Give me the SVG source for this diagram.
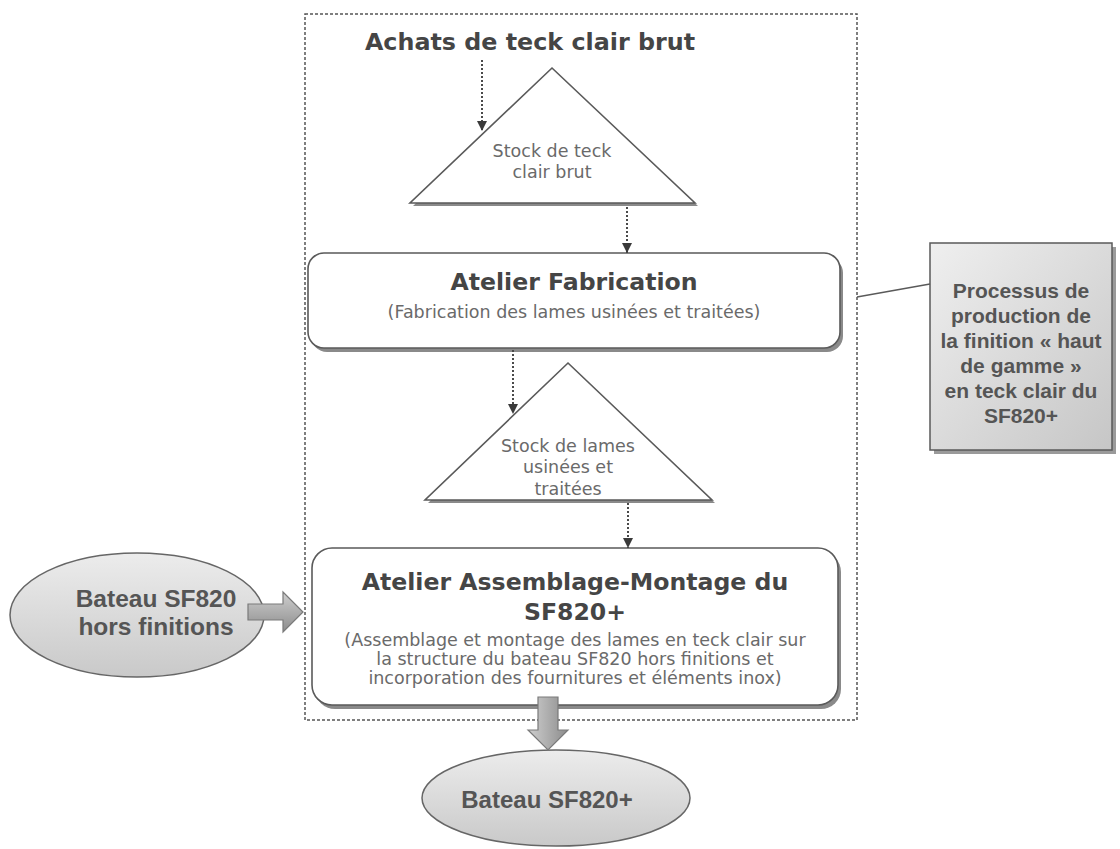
<svg xmlns="http://www.w3.org/2000/svg" width="1120" height="849" viewBox="0 0 1120 849">
  <defs>
    <style>
      .title { font-family: "DejaVu Sans", Verdana, sans-serif; font-weight: bold; fill: #454545; text-anchor: middle; }
      .sub { font-family: "DejaVu Sans", Verdana, sans-serif; fill: #6a6a6a; text-anchor: middle; }
      .arial { font-family: "Liberation Sans", Arial, sans-serif; font-weight: bold; fill: #555; text-anchor: middle; }
      .box { fill: #ffffff; stroke: #5a5a5a; stroke-width: 1.6; }
      .shadow { fill: #8a8a8a; }
      .dotted { fill: none; stroke: #4a4a4a; stroke-width: 2; stroke-dasharray: 2 2; }
      .solid { fill: none; stroke: #5a5a5a; stroke-width: 1.5; }
      .frame { fill: none; stroke: #555; stroke-width: 1.5; stroke-dasharray: 3 2; }
      .fat { stroke: #7a7a7a; stroke-width: 1.2; }
    </style>
    <marker id="ah" markerUnits="userSpaceOnUse" markerWidth="10" markerHeight="10" refX="10" refY="5" orient="auto">
      <path d="M0,0 L10,5 L0,10 Z" fill="#3a3a3a"/>
    </marker>
    <linearGradient id="gEll" x1="0" y1="0" x2="0" y2="1">
      <stop offset="0" stop-color="#ececec"/>
      <stop offset="1" stop-color="#c9c9c9"/>
    </linearGradient>
    <linearGradient id="gBox" x1="0" y1="0" x2="1" y2="1">
      <stop offset="0" stop-color="#efefef"/>
      <stop offset="1" stop-color="#c6c6c6"/>
    </linearGradient>
    <linearGradient id="gArrV" x1="0" y1="0" x2="1" y2="0">
      <stop offset="0" stop-color="#cfcfcf"/>
      <stop offset="1" stop-color="#8c8c8c"/>
    </linearGradient>
    <linearGradient id="gArrH" x1="0" y1="0" x2="0" y2="1">
      <stop offset="0" stop-color="#cfcfcf"/>
      <stop offset="1" stop-color="#8c8c8c"/>
    </linearGradient>
  </defs>

  <rect width="1120" height="849" fill="#ffffff"/>

  <g id="frame">
    <rect class="frame" x="305" y="14" width="552" height="706"/>
  </g>

  <g id="achats">
    <text class="title" x="530" y="50" font-size="23.8">Achats de teck clair brut</text>
  </g>

  <g id="stock1">
    <polygon class="shadow" points="554,71 698,206 413,206"/>
    <polygon class="box" points="552,68 695,203 410,203"/>
    <text class="sub" x="552" y="157" font-size="17.5">Stock de teck</text>
    <text class="sub" x="552" y="178" font-size="17.5">clair brut</text>
  </g>

  <g id="fabrication">
    <rect class="shadow" x="311" y="257" width="532" height="95" rx="16"/>
    <rect class="box" x="308" y="253" width="532" height="95" rx="16"/>
    <text class="title" x="574" y="290" font-size="23.6">Atelier Fabrication</text>
    <text class="sub" x="574" y="318" font-size="17.5">(Fabrication des lames usinées et traitées)</text>
  </g>

  <g id="stock2">
    <polygon class="shadow" points="570,366 715,503 428,503"/>
    <polygon class="box" points="568,363 712,500 425,500"/>
    <text class="sub" x="568" y="452" font-size="17.5">Stock de lames</text>
    <text class="sub" x="568" y="473" font-size="17.5">usinées et</text>
    <text class="sub" x="568" y="495" font-size="17.5">traitées</text>
  </g>

  <g id="assemblage">
    <rect class="shadow" x="315" y="552" width="526" height="157" rx="20"/>
    <rect class="box" x="312" y="548" width="526" height="157" rx="20"/>
    <text class="title" x="575" y="590" font-size="23.6">Atelier Assemblage-Montage du</text>
    <text class="title" x="575" y="620" font-size="23.6">SF820+</text>
    <text class="sub" x="575" y="646" font-size="17.5">(Assemblage et montage des lames en teck clair sur</text>
    <text class="sub" x="575" y="665" font-size="17.5">la structure du bateau SF820 hors finitions et</text>
    <text class="sub" x="575" y="684" font-size="17.5">incorporation des fournitures et éléments inox)</text>
  </g>

  <g id="bateau-hors">
    <ellipse cx="137" cy="615" rx="127" ry="62" fill="url(#gEll)" stroke="#666" stroke-width="1.5"/>
    <text class="arial" x="156" y="607" font-size="24.5">Bateau SF820</text>
    <text class="arial" x="156" y="635" font-size="24.5">hors finitions</text>
  </g>

  <g id="bateau-plus">
    <ellipse cx="556" cy="798" rx="134" ry="48" fill="url(#gEll)" stroke="#666" stroke-width="1.5"/>
    <text class="arial" x="547" y="808" font-size="24">Bateau SF820+</text>
  </g>

  <g id="processus">
    <rect x="934" y="247" width="182" height="207" fill="#9a9a9a"/>
    <rect x="930" y="243" width="182" height="207" fill="url(#gBox)" stroke="#5a5a5a" stroke-width="1.5"/>
    <text class="arial" x="1021" y="298" font-size="21">Processus de</text>
    <text class="arial" x="1021" y="323" font-size="21">production de</text>
    <text class="arial" x="1021" y="348" font-size="21">la finition « haut</text>
    <text class="arial" x="1021" y="373" font-size="21">de gamme »</text>
    <text class="arial" x="1021" y="398" font-size="21">en teck clair du</text>
    <text class="arial" x="1021" y="423" font-size="21">SF820+</text>
  </g>

  <g id="connectors">
    <line class="dotted" x1="482" y1="60" x2="482" y2="131" marker-end="url(#ah)"/>
    <line class="dotted" x1="627" y1="207" x2="627" y2="253" marker-end="url(#ah)"/>
    <line class="dotted" x1="513" y1="350" x2="513" y2="414" marker-end="url(#ah)"/>
    <line class="dotted" x1="628" y1="503" x2="628" y2="548" marker-end="url(#ah)"/>
    <line class="solid" x1="857" y1="297" x2="930" y2="284"/>
    <path class="fat" d="M538,697 H558 V730 H568 L548,750 L528,730 H538 Z" fill="url(#gArrV)"/>
    <path class="fat" d="M248,604 H283 V592 L303,612 L283,632 V620 H248 Z" fill="url(#gArrH)"/>
  </g>
</svg>
